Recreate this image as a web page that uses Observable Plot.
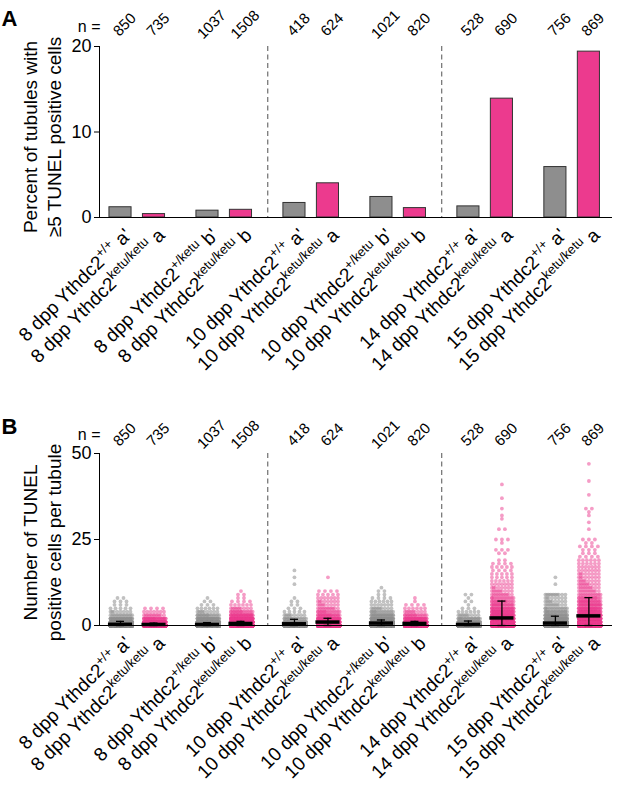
<!DOCTYPE html>
<html><head><meta charset="utf-8">
<script src="https://cdn.jsdelivr.net/npm/d3@7"></script>
<script src="https://cdn.jsdelivr.net/npm/@observablehq/plot@0.6"></script>
<style>body{margin:0;background:#fff;} #chart svg{display:block;}</style>
</head><body><div id="chart"></div>
<script>
// ---- data ----
const ages = [8, 8, 8, 8, 10, 10, 10, 10, 14, 14, 15, 15];
const genotypes = ["+/+", "ketu/ketu", "+/ketu", "ketu/ketu", "+/+", "ketu/ketu", "+/ketu", "ketu/ketu", "+/+", "ketu/ketu", "+/+", "ketu/ketu"];
const letters = ["a'", "a", "b'", "b", "a'", "a", "b'", "b", "a'", "a", "a'", "a"];
const nTubules = [850, 735, 1037, 1508, 418, 624, 1021, 820, 528, 690, 756, 869];
const pctAtLeast5 = [1.2, 0.4, 0.8, 0.9, 1.7, 4.0, 2.4, 1.1, 1.3, 13.9, 5.9, 19.4];
const meanCells = [0.35, 0.3, 0.3, 0.6, 0.5, 1.0, 0.7, 0.6, 0.3, 2.2, 0.7, 2.8];
const sdCells = [0.85, 0.4, 0.55, 0.6, 1.3, 1.1, 0.9, 0.6, 1.0, 4.9, 2.0, 5.3];
// number of tubules having 0, 1, 2, ... TUNEL positive cells
const cellCounts = [
  [700, 80, 35, 14, 8, 5, 3, 3, 2],
  [590, 90, 32, 12, 7, 4],
  [848, 110, 40, 18, 9, 6, 3, 2, 1],
  [1150, 200, 80, 35, 18, 10, 6, 4, 2, 2, 1],
  [331, 45, 17, 9, 5, 3, 2, 2, 1, 0, 0, 0, 1, 0, 1, 0, 1],
  [401, 90, 45, 25, 17, 12, 9, 8, 7, 5, 4, 0, 0, 0, 1],
  [760, 130, 55, 28, 16, 10, 7, 6, 4, 2, 2, 1],
  [640, 100, 40, 18, 10, 6, 4, 1, 1],
  [426, 55, 22, 10, 6, 3, 1, 2, 1, 2],
  [265, 105, 70, 48, 38, 29, 24, 19, 15, 12, 10, 8, 7, 6, 5, 5, 4, 5, 4, 2, 0, 2, 3, 0, 1, 3, 0, 0, 2, 0, 0, 1, 1, 0, 1, 0, 0, 1, 0, 0, 0, 1],
  [481, 110, 55, 32, 22, 15, 11, 9, 8, 11, 0, 0, 1, 0, 1],
  [351, 110, 80, 56, 40, 34, 28, 24, 20, 14, 12, 11, 10, 9, 8, 8, 7, 7, 6, 6, 4, 3, 3, 4, 2, 3, 0, 0, 1, 0, 1, 0, 1, 1, 2, 0, 0, 0, 1, 0, 0, 0, 1, 0, 0, 0, 0, 1]
];
const yTicksA = [0, 10, 20];
const yTicksB = [0, 25, 50];
const dividerAfter = [3, 7];

// ---- layout helpers ----
const idx = d3.range(ages.length);
const pairStep = 87 / 33.5;
const xpos = i => Math.floor(i / 2) * pairStep + (i % 2);
const isMut = i => genotypes[i] === "ketu/ketu";
const xDomain = [-0.627, 14.69];
const font = "'Liberation Sans', Arial, Helvetica, sans-serif";
const gray = "#8e8e8e", pink = "#ec3a8e";
const dividerX = dividerAfter.map(i => (xpos(i) + xpos(i + 1)) / 2);
const catLabel = i => `${ages[i]} dpp Ythdc2^${genotypes[i]}^ ${letters[i]}`;

function fixLabels(svg) {
  d3.select(svg).selectAll("text").each(function () {
    const t = this.textContent;
    if (!t.includes("^")) return;
    const [pre, sup, post] = t.split("^");
    const sel = d3.select(this);
    sel.text(null);
    sel.append("tspan").text(pre);
    sel.append("tspan").attr("font-size", 13).attr("dy", -7.5).text(sup);
    sel.append("tspan").attr("dy", 7.5).text(post);
  });
}

function sharedMarks(opts) {
  return [
    Plot.ruleX(dividerX, {stroke: "#7a7a7a", strokeWidth: 1.3, strokeDasharray: "5,3.5"}),
    Plot.text(idx, {x: xpos, text: i => String(nTubules[i]), frameAnchor: "top", dy: opts.dyN, rotate: -45, fontSize: 15}),
    Plot.text(["n ="], {frameAnchor: "top-left", dx: 1, dy: opts.dyNeq, textAnchor: "end", fontSize: 16}),
    Plot.text([opts.letter], {frameAnchor: "top-left", dx: -98, dy: opts.dyLetter, textAnchor: "start", lineAnchor: "bottom", fontSize: 22, fontWeight: "bold"}),
    Plot.text([opts.title], {frameAnchor: "left", dx: -58, dy: opts.dyTitle, rotate: -90, textAnchor: "middle", lineAnchor: "middle", lineHeight: 1.25, fontSize: 19}),
    Plot.text(idx, {x: xpos, text: catLabel, frameAnchor: "bottom", rotate: -45, textAnchor: "end", lineAnchor: "bottom", dx: 12, dy: 19, fontSize: 19}),
    Plot.ruleX([xDomain[0]], {stroke: "#000", strokeWidth: 1})
  ];
}

const plotA = Plot.plot({
  width: 617, height: 400, marginTop: 46, marginBottom: 183, marginLeft: 99, marginRight: 5,
  style: {fontFamily: font, fontSize: "18px", color: "#000", background: "white"},
  x: {domain: xDomain, axis: null},
  y: {domain: [0, 20], ticks: yTicksA, tickSize: 5, tickPadding: 3, label: null},
  marks: [
    ...sharedMarks({letter: "A", title: "Percent of tubules with\n≥5 TUNEL positive cells", dyN: -26, dyNeq: -26, dyLetter: -21, dyTitle: 5}),
    Plot.rect(idx.filter(i => !isMut(i)), {x1: i => xpos(i) - 0.33, x2: i => xpos(i) + 0.33, y1: 0, y2: i => pctAtLeast5[i], fill: gray, stroke: "#333", strokeWidth: 1}),
    Plot.rect(idx.filter(isMut), {x1: i => xpos(i) - 0.33, x2: i => xpos(i) + 0.33, y1: 0, y2: i => pctAtLeast5[i], fill: pink, stroke: "#333", strokeWidth: 1}),
    Plot.ruleY([0], {stroke: "#000", strokeWidth: 1.2})
  ]
});

// rows of dots per integer count, spread sideways in slots (derived from the counts)
const pxUnit = 33.5, slots = 7, rowPx = 20;
const dots = [];
idx.forEach(i => cellCounts[i].forEach((k, v) => {
  if (!k) return;
  for (let j = 0; j < k; j++) {
    let px;
    if (k <= slots) {
      const gap = k === 1 ? 0 : Math.min(6, rowPx / (k - 1));
      px = (j - (k - 1) / 2) * gap;
    } else {
      const slot = j % slots, pass = Math.floor(j / slots);
      px = slot * rowPx / (slots - 1) - rowPx / 2 + (pass % 2 ? rowPx / (slots - 1) / 2 : 0);
    }
    dots.push({i, v, off: px / pxUnit});
  }
}));
const lo = i => Math.max(0, meanCells[i] - sdCells[i]);
const hi = i => meanCells[i] + sdCells[i];

const plotB = Plot.plot({
  width: 617, height: 388, marginTop: 53, marginBottom: 163, marginLeft: 99, marginRight: 5,
  style: {fontFamily: font, fontSize: "18px", color: "#000", background: "white"},
  x: {domain: xDomain, axis: null},
  y: {domain: [0, 50], ticks: yTicksB, tickSize: 5, tickPadding: 3, label: null},
  marks: [
    ...sharedMarks({letter: "B", title: "Number of TUNEL\npositive cells per tubule", dyN: -23, dyNeq: -25, dyLetter: -20, dyTitle: 3}),
    Plot.dot(dots.filter(d => !isMut(d.i)), {x: d => xpos(d.i) + d.off, y: "v", r: 1.9, fill: gray, fillOpacity: 0.55, stroke: "none"}),
    Plot.dot(dots.filter(d => isMut(d.i)), {x: d => xpos(d.i) + d.off, y: "v", r: 1.9, fill: pink, fillOpacity: 0.5, stroke: "none"}),
    Plot.ruleY([0], {stroke: "#000", strokeWidth: 1.2}),
    Plot.ruleX(idx, {x: xpos, y1: lo, y2: hi, stroke: "#000", strokeWidth: 1.3}),
    Plot.ruleY(idx, {y: hi, x1: i => xpos(i) - 0.12, x2: i => xpos(i) + 0.12, stroke: "#000", strokeWidth: 1.3}),
    Plot.ruleY(idx, {y: lo, x1: i => xpos(i) - 0.12, x2: i => xpos(i) + 0.12, stroke: "#000", strokeWidth: 1.3}),
    Plot.ruleY(idx, {y: i => meanCells[i], x1: i => xpos(i) - 0.36, x2: i => xpos(i) + 0.36, stroke: "#000", strokeWidth: 3.5})
  ]
});

fixLabels(plotA); fixLabels(plotB);
const root = document.getElementById("chart");
root.append(plotA, plotB);
</script></body></html>
